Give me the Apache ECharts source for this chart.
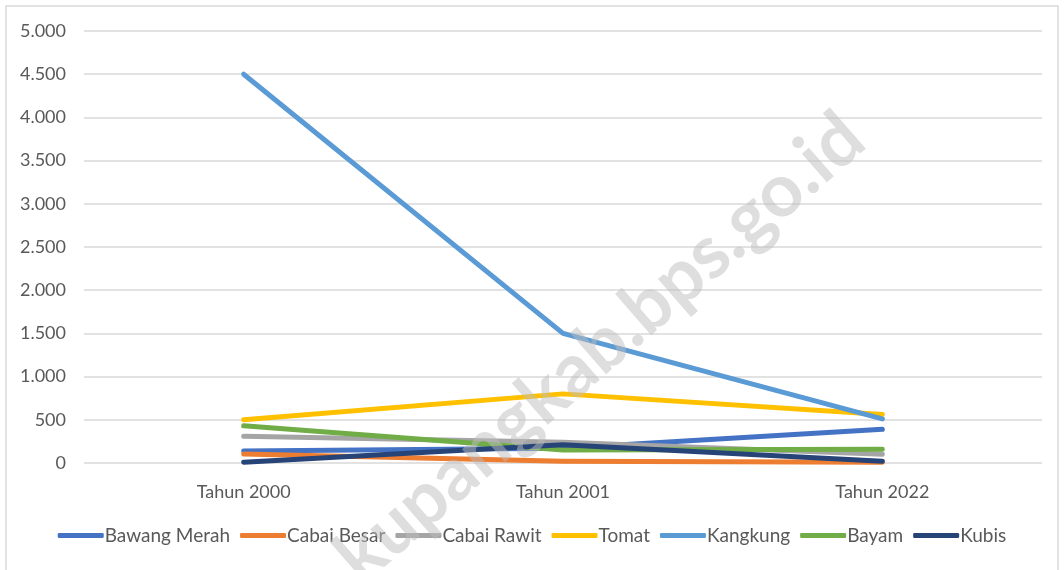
<!DOCTYPE html>
<html>
<head>
<meta charset="utf-8">
<script src="https://cdn.jsdelivr.net/npm/echarts@6/dist/echarts.min.js"></script>
<style>
html,body{margin:0;padding:0;background:#fff;}
#chart{width:1064px;height:570px;}
</style>
</head>
<body>
<div id="chart"></div>
<script>
const categories = ['Tahun 2000', 'Tahun 2001', 'Tahun 2022'];
const seriesNames = ['Bawang Merah', 'Cabai Besar', 'Cabai Rawit', 'Tomat', 'Kangkung', 'Bayam', 'Kubis'];
const bawangMerah = [140, 170, 390];
const cabaiBesar = [105, 20, 10];
const cabaiRawit = [310, 240, 100];
const tomat = [500, 800, 560];
const kangkung = [4500, 1500, 510];
const bayam = [430, 150, 160];
const kubis = [10, 210, 20];
const colors = ['#4472C4', '#ED7D31', '#A5A5A5', '#FFC000', '#5B9BD5', '#70AD47', '#264478'];
const values = [bawangMerah, cabaiBesar, cabaiRawit, tomat, kangkung, bayam, kubis];

const chart = echarts.init(document.getElementById('chart'));
const font = 'Lato, "Open Sans", sans-serif';
chart.setOption({
  animation: false,
  color: colors,
  grid: {left: 84, right: 22, top: 31, bottom: 107, containLabel: false},
  xAxis: {
    type: 'category',
    data: categories,
    boundaryGap: true,
    axisLine: {show: false},
    axisTick: {show: false},
    axisLabel: {color: '#595959', fontSize: 18, fontFamily: font, margin: 20}
  },
  yAxis: {
    type: 'value',
    min: 0, max: 5000, interval: 500,
    axisLine: {show: false},
    axisTick: {show: false},
    splitLine: {lineStyle: {color: '#d9d9d9', width: 1.5}},
    axisLabel: {
      color: '#595959', fontSize: 18, fontFamily: font, margin: 18,
      formatter: v => v.toString().replace(/\B(?=(\d{3})+(?!\d))/g, '.')
    }
  },
  legend: {
    bottom: 20,
    left: 'center',
    icon: 'roundRect',
    itemWidth: 46,
    itemHeight: 5,
    itemGap: 10,
    textStyle: {color: '#595959', fontSize: 19, fontFamily: font, padding: [0, 0, 0, -4]},
    data: seriesNames
  },
  series: seriesNames.map((n, i) => ({
    name: n,
    type: 'line',
    data: values[i],
    symbol: 'none',
    lineStyle: {width: 5, cap: 'round', join: 'round'},
    z: 2 + i
  })),
  graphic: [
    {type: 'rect', shape: {x: 6, y: 6, width: 1052, height: 570}, style: {fill: 'none', stroke: '#d9d9d9', lineWidth: 1.5}, silent: true},
    {type: 'text', x: 600, y: 348, rotation: Math.PI * 41 / 180, z: 100,
     style: {text: 'kupangkab.bps.go.id', fill: 'rgba(190,190,190,0.5)', font: 'bold 74px ' + font, align: 'center', verticalAlign: 'middle'}, silent: true}
  ]
});
</script>
</body>
</html>
